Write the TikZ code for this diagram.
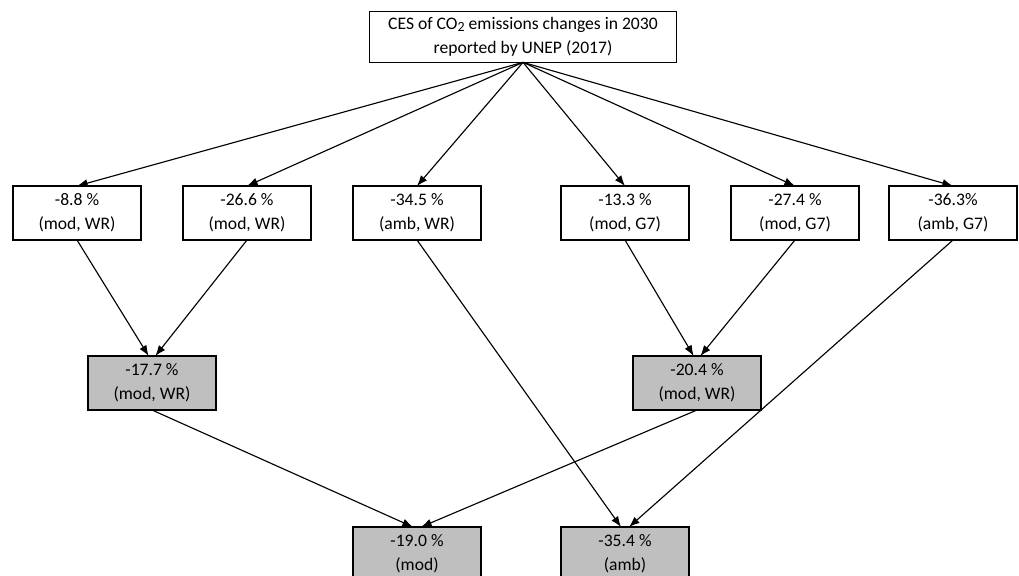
\documentclass[tikz,border=0pt]{standalone}
\usepackage{fontspec}
\setmainfont{Carlito}
\usetikzlibrary{arrows.meta}

\begin{document}
\begin{tikzpicture}[x=0.75pt,y=-0.75pt,every node/.style={draw,outer sep=0pt,line width=0.8pt,align=center,inner sep=0pt,font=\fontsize{13.2}{18}\selectfont}]
				\tikzstyle{case}=[minimum width=96pt,minimum height=40.5pt,fill=white]
				\tikzstyle{mean}=[case,fill=black!25]
				\tikzstyle{link}=[line width=0.85pt,-{Latex[length=8pt,width=6pt]}]
				\useasboundingbox (0,0) rectangle (1019,575);
				
				\node (ces) [minimum width=230pt,minimum height=38pt] at (523,37) {CES of CO{\fontsize{10.5}{10}\selectfont\raisebox{-1.5pt}{2}} emissions changes in 2030\\reported by UNEP (2017)};	% Quelle
				
				\node (mwr1) [case] at (77,213) {-8.8 \%\\(mod, WR)};
				\node (mwr2) [case] at (247,213) {-26.6 \%\\(mod, WR)};
				\node (awr) [case] at (417,213) {-34.5 \%\\(amb, WR)};
				\node (mg1) [case] at (625,213) {-13.3 \%\\(mod, G7)};
				\node (mg2) [case] at (795,213) {-27.4 \%\\(mod, G7)};
				\node (ag) [case] at (953,213) {-36.3\%\\(amb, G7)};
				
				\node (mwr) [mean] at (152,383) {-17.7 \%\\(mod, WR)};						% Mittel WR
				\node (mg) [mean] at (697,383) {-20.4 \%\\(mod, WR)};						% Mittel G7
				
				\node (mod) [mean] at (417,554) {-19.0 \%\\(mod)};
				\node (amb) [mean] at (625,554) {-35.4 \%\\(amb)};
				
				\foreach \n in {mwr1,mwr2,awr,mg1,mg2,ag}
					\draw [link] (ces.south) -- (\n.north);
				
				\draw [link] (mwr1.south) -- ([xshift=-2.5pt]mwr.north);
				\draw [link] (mwr2.south) -- ([xshift=2.5pt]mwr.north);
				\draw [link] (mg1.south) -- ([xshift=-2.5pt]mg.north);
				\draw [link] (mg2.south) -- ([xshift=2.5pt]mg.north);
				
				\draw [link] (mwr.south) -- ([xshift=-3pt]mod.north);
				\draw [link] (mg.south) -- ([xshift=3pt]mod.north);
				\draw [link] (awr.south) -- ([xshift=-3pt]amb.north);
				\draw [link] (ag.south) -- ([xshift=3pt]amb.north);
\end{tikzpicture}
\end{document}
